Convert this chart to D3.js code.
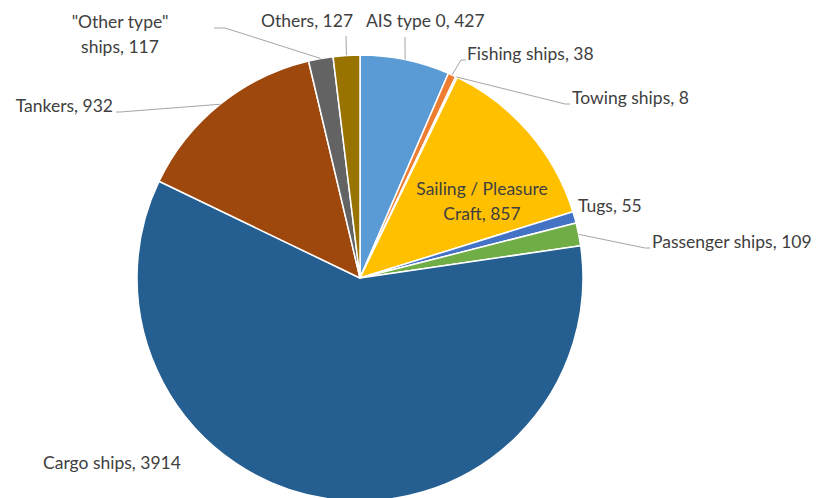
<!DOCTYPE html>
<html>
<head>
<meta charset="utf-8">
<script src="https://cdn.jsdelivr.net/npm/d3@7/dist/d3.min.js"></script>
<style>
  html, body { margin: 0; padding: 0; background: #fff; }
  svg text { font-family: Lato, "Open Sans", sans-serif; fill: #404040; }
</style>
</head>
<body>
<svg id="chart" width="822" height="498"></svg>
<script>
// Vessel counts by AIS ship type
const categories = [
  "AIS type 0", "Fishing ships", "Towing ships", "Sailing / Pleasure Craft",
  "Tugs", "Passenger ships", "Cargo ships", "Tankers", "\"Other type\" ships", "Others"
];
const counts = [427, 38, 8, 857, 55, 109, 3914, 932, 117, 127];
const colors = [
  "#5B9BD5", "#ED7D31", "#A5A5A5", "#FFC000", "#4472C4",
  "#70AD47", "#255E91", "#9E480E", "#636363", "#997300"
];

// Label layout: text lines, anchor, baseline of first line, and optional leader elbow
const labelLayout = [
  { lines: ["AIS type 0, 427"], x: 366, y: 27, anchor: "start", elbow: [405, 37] },
  { lines: ["Fishing ships, 38"], x: 467, y: 60, anchor: "start", elbow: [461, 60], end: [466, 60] },
  { lines: ["Towing ships, 8"], x: 572, y: 104, anchor: "start", elbow: [565, 104], end: [570, 104] },
  { lines: ["Sailing / Pleasure", "Craft, 857"], x: 482, y: 195, anchor: "middle" },
  { lines: ["Tugs, 55"], x: 578, y: 212, anchor: "start" },
  { lines: ["Passenger ships, 109"], x: 652, y: 248, anchor: "start", elbow: [645, 248], end: [650, 248] },
  { lines: ["Cargo ships, 3914"], x: 43, y: 469, anchor: "start" },
  { lines: ["Tankers, 932"], x: 113, y: 112, anchor: "end", elbow: [120, 112], end: [116, 112] },
  { lines: ["\"Other type\"", "ships, 117"], x: 120, y: 28, anchor: "middle", elbow: [225, 28], end: [214, 28] },
  { lines: ["Others, 127"], x: 261, y: 27, anchor: "start", elbow: [346, 36] }
];

const svg = d3.select("#chart");
const cx = 360, cy = 278, radius = 223;
const g = svg.append("g").attr("transform", `translate(${cx},${cy})`);

const data = categories.map((c, i) => ({ name: c, value: counts[i], color: colors[i], layout: labelLayout[i] }));

const pie = d3.pie().value(d => d.value).sort(null).startAngle(0).endAngle(2 * Math.PI);
const arc = d3.arc().innerRadius(0).outerRadius(radius);
const arcs = pie(data);

g.selectAll("path.slice")
  .data(arcs)
  .join("path")
  .attr("class", "slice")
  .attr("d", arc)
  .attr("fill", d => d.data.color)
  .attr("stroke", "#fff")
  .attr("stroke-width", 1.5)
  .attr("stroke-linejoin", "round");

// Leader lines from slice edge (mid-angle) to label
const edgePoint = d => {
  const a = (d.startAngle + d.endAngle) / 2;
  return [cx + radius * Math.sin(a), cy - radius * Math.cos(a)];
};

svg.selectAll("polyline.leader")
  .data(arcs.filter(d => d.data.layout.elbow))
  .join("polyline")
  .attr("class", "leader")
  .attr("fill", "none")
  .attr("stroke", "#A6A6A6")
  .attr("stroke-width", 1)
  .attr("points", d => {
    const pts = [edgePoint(d), d.data.layout.elbow];
    if (d.data.layout.end) pts.push(d.data.layout.end);
    return pts.map(p => p.join(",")).join(" ");
  });

// Labels
const labels = svg.selectAll("text.label")
  .data(arcs)
  .join("text")
  .attr("class", "label")
  .attr("font-size", 17.5)
  .attr("text-anchor", d => d.data.layout.anchor);

labels.each(function(d) {
  const L = d.data.layout;
  d3.select(this).selectAll("tspan")
    .data(L.lines)
    .join("tspan")
    .attr("x", L.x)
    .attr("y", (t, i) => L.y + i * 25)
    .text(t => t);
});
</script>
</body>
</html>
